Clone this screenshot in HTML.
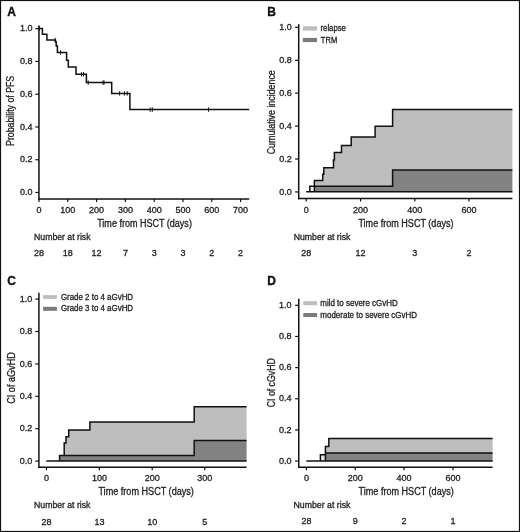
<!DOCTYPE html>
<html><head><meta charset="utf-8"><style>
html,body{margin:0;padding:0;background:#fff;width:520px;height:532px;overflow:hidden;font-family:"Liberation Sans",sans-serif;}
</style></head><body>
<svg width="520" height="532" viewBox="0 0 520 532" style="position:absolute;left:0;top:0;filter:grayscale(1)" font-family="&quot;Liberation Sans&quot;, sans-serif">
<rect x="0" y="0" width="520" height="532" fill="#fff"/>
<line x1="38.95" y1="25.60" x2="38.95" y2="199.65" stroke="#111" stroke-width="1.5"/>
<line x1="38.20" y1="198.90" x2="249.20" y2="198.90" stroke="#111" stroke-width="1.5"/>
<line x1="35.35" y1="28.65" x2="38.95" y2="28.65" stroke="#111" stroke-width="1.2"/>
<text x="32.40" y="31.35" font-size="9" text-anchor="end" fill="#222" stroke="#222" stroke-width="0.3">1.0</text>
<line x1="35.35" y1="61.42" x2="38.95" y2="61.42" stroke="#111" stroke-width="1.2"/>
<text x="32.40" y="64.12" font-size="9" text-anchor="end" fill="#222" stroke="#222" stroke-width="0.3">0.8</text>
<line x1="35.35" y1="94.19" x2="38.95" y2="94.19" stroke="#111" stroke-width="1.2"/>
<text x="32.40" y="96.89" font-size="9" text-anchor="end" fill="#222" stroke="#222" stroke-width="0.3">0.6</text>
<line x1="35.35" y1="126.96" x2="38.95" y2="126.96" stroke="#111" stroke-width="1.2"/>
<text x="32.40" y="129.66" font-size="9" text-anchor="end" fill="#222" stroke="#222" stroke-width="0.3">0.4</text>
<line x1="35.35" y1="159.73" x2="38.95" y2="159.73" stroke="#111" stroke-width="1.2"/>
<text x="32.40" y="162.43" font-size="9" text-anchor="end" fill="#222" stroke="#222" stroke-width="0.3">0.2</text>
<line x1="35.35" y1="192.50" x2="38.95" y2="192.50" stroke="#111" stroke-width="1.2"/>
<text x="32.40" y="195.20" font-size="9" text-anchor="end" fill="#222" stroke="#222" stroke-width="0.3">0.0</text>
<line x1="39.00" y1="198.90" x2="39.00" y2="201.90" stroke="#111" stroke-width="1.2"/>
<text x="39.00" y="212.70" font-size="9" text-anchor="middle" fill="#222" stroke="#222" stroke-width="0.3">0</text>
<line x1="67.80" y1="198.90" x2="67.80" y2="201.90" stroke="#111" stroke-width="1.2"/>
<text x="67.80" y="212.70" font-size="9" text-anchor="middle" fill="#222" stroke="#222" stroke-width="0.3">100</text>
<line x1="96.60" y1="198.90" x2="96.60" y2="201.90" stroke="#111" stroke-width="1.2"/>
<text x="96.60" y="212.70" font-size="9" text-anchor="middle" fill="#222" stroke="#222" stroke-width="0.3">200</text>
<line x1="125.40" y1="198.90" x2="125.40" y2="201.90" stroke="#111" stroke-width="1.2"/>
<text x="125.40" y="212.70" font-size="9" text-anchor="middle" fill="#222" stroke="#222" stroke-width="0.3">300</text>
<line x1="154.20" y1="198.90" x2="154.20" y2="201.90" stroke="#111" stroke-width="1.2"/>
<text x="154.20" y="212.70" font-size="9" text-anchor="middle" fill="#222" stroke="#222" stroke-width="0.3">400</text>
<line x1="183.00" y1="198.90" x2="183.00" y2="201.90" stroke="#111" stroke-width="1.2"/>
<text x="183.00" y="212.70" font-size="9" text-anchor="middle" fill="#222" stroke="#222" stroke-width="0.3">500</text>
<line x1="211.80" y1="198.90" x2="211.80" y2="201.90" stroke="#111" stroke-width="1.2"/>
<text x="211.80" y="212.70" font-size="9" text-anchor="middle" fill="#222" stroke="#222" stroke-width="0.3">600</text>
<line x1="240.60" y1="198.90" x2="240.60" y2="201.90" stroke="#111" stroke-width="1.2"/>
<text x="240.60" y="212.70" font-size="9" text-anchor="middle" fill="#222" stroke="#222" stroke-width="0.3">700</text>
<text x="39.00" y="255.70" font-size="9" text-anchor="middle" fill="#222" stroke="#222" stroke-width="0.3">28</text>
<text x="67.80" y="255.70" font-size="9" text-anchor="middle" fill="#222" stroke="#222" stroke-width="0.3">18</text>
<text x="96.60" y="255.70" font-size="9" text-anchor="middle" fill="#222" stroke="#222" stroke-width="0.3">12</text>
<text x="125.40" y="255.70" font-size="9" text-anchor="middle" fill="#222" stroke="#222" stroke-width="0.3">7</text>
<text x="154.20" y="255.70" font-size="9" text-anchor="middle" fill="#222" stroke="#222" stroke-width="0.3">3</text>
<text x="183.00" y="255.70" font-size="9" text-anchor="middle" fill="#222" stroke="#222" stroke-width="0.3">3</text>
<text x="211.80" y="255.70" font-size="9" text-anchor="middle" fill="#222" stroke="#222" stroke-width="0.3">2</text>
<text x="240.60" y="255.70" font-size="9" text-anchor="middle" fill="#222" stroke="#222" stroke-width="0.3">2</text>
<text x="144.55" y="227.20" font-size="10" text-anchor="middle" fill="#222" stroke="#222" stroke-width="0.3" textLength="94.70" lengthAdjust="spacingAndGlyphs">Time from HSCT (days)</text>
<text x="34.10" y="239.90" font-size="9" text-anchor="start" fill="#222" stroke="#222" stroke-width="0.3" textLength="56.40" lengthAdjust="spacingAndGlyphs">Number at risk</text>
<text x="14.40" y="110.85" font-size="10" text-anchor="middle" fill="#222" stroke="#222" stroke-width="0.3" textLength="70.10" lengthAdjust="spacingAndGlyphs" transform="rotate(-90 14.40 110.85)">Probability of PFS</text>
<text x="7.30" y="15.80" font-size="12" text-anchor="start" fill="#111" stroke="#111" stroke-width="0.35" font-weight="bold">A</text>
<polyline points="39.00,28.60 42.40,28.60 42.40,34.20 46.90,34.20 46.90,40.00 55.40,40.00 55.40,41.80 56.20,41.80 56.20,46.00 57.40,46.00 57.40,52.40 66.60,52.40 66.60,60.20 68.30,60.20 68.30,67.00 76.00,67.00 76.00,74.30 86.40,74.30 86.40,82.60 111.70,82.60 111.70,93.40 129.90,93.40 129.90,109.60 249.20,109.60" fill="none" stroke="#111" stroke-width="1.5" stroke-linejoin="miter" stroke-linecap="butt"/>
<line x1="39.20" y1="26.40" x2="39.20" y2="30.80" stroke="#111" stroke-width="1.0"/>
<line x1="55.20" y1="37.80" x2="55.20" y2="42.20" stroke="#111" stroke-width="1.0"/>
<line x1="60.60" y1="50.20" x2="60.60" y2="54.60" stroke="#111" stroke-width="1.0"/>
<line x1="81.50" y1="72.10" x2="81.50" y2="76.50" stroke="#111" stroke-width="1.0"/>
<line x1="83.50" y1="72.10" x2="83.50" y2="76.50" stroke="#111" stroke-width="1.0"/>
<line x1="88.20" y1="80.40" x2="88.20" y2="84.80" stroke="#111" stroke-width="1.0"/>
<line x1="103.00" y1="80.40" x2="103.00" y2="84.80" stroke="#111" stroke-width="1.0"/>
<line x1="104.00" y1="80.40" x2="104.00" y2="84.80" stroke="#111" stroke-width="1.0"/>
<line x1="119.60" y1="91.20" x2="119.60" y2="95.60" stroke="#111" stroke-width="1.0"/>
<line x1="124.40" y1="91.20" x2="124.40" y2="95.60" stroke="#111" stroke-width="1.0"/>
<line x1="127.20" y1="91.20" x2="127.20" y2="95.60" stroke="#111" stroke-width="1.0"/>
<line x1="150.20" y1="107.40" x2="150.20" y2="111.80" stroke="#111" stroke-width="1.0"/>
<line x1="152.30" y1="107.40" x2="152.30" y2="111.80" stroke="#111" stroke-width="1.0"/>
<line x1="208.60" y1="107.40" x2="208.60" y2="111.80" stroke="#111" stroke-width="1.0"/>
<polygon points="314.40,186.30 314.40,180.40 322.70,180.40 322.70,174.20 323.80,174.20 323.80,167.70 333.50,167.70 333.50,160.00 334.40,160.00 334.40,152.50 341.50,152.50 341.50,145.60 351.20,145.60 351.20,136.90 375.10,136.90 375.10,126.20 392.60,126.20 392.60,109.60 512.40,109.60 512.40,169.90 392.60,169.90 392.60,186.30 314.40,186.30" fill="#bebebe" stroke="none"/>
<polygon points="314.40,186.30 392.60,186.30 392.60,169.90 512.40,169.90 512.40,191.70 314.40,191.70" fill="#828282" stroke="none"/>
<rect x="309.80" y="186.30" width="4.60" height="5.40" fill="#f4f4f4"/>
<line x1="298.70" y1="24.20" x2="298.70" y2="199.30" stroke="#111" stroke-width="1.5"/>
<line x1="297.95" y1="198.55" x2="512.40" y2="198.55" stroke="#111" stroke-width="1.5"/>
<line x1="295.10" y1="27.35" x2="298.70" y2="27.35" stroke="#111" stroke-width="1.2"/>
<text x="291.80" y="30.05" font-size="9" text-anchor="end" fill="#222" stroke="#222" stroke-width="0.3">1.0</text>
<line x1="295.10" y1="60.26" x2="298.70" y2="60.26" stroke="#111" stroke-width="1.2"/>
<text x="291.80" y="62.96" font-size="9" text-anchor="end" fill="#222" stroke="#222" stroke-width="0.3">0.8</text>
<line x1="295.10" y1="93.17" x2="298.70" y2="93.17" stroke="#111" stroke-width="1.2"/>
<text x="291.80" y="95.87" font-size="9" text-anchor="end" fill="#222" stroke="#222" stroke-width="0.3">0.6</text>
<line x1="295.10" y1="126.08" x2="298.70" y2="126.08" stroke="#111" stroke-width="1.2"/>
<text x="291.80" y="128.78" font-size="9" text-anchor="end" fill="#222" stroke="#222" stroke-width="0.3">0.4</text>
<line x1="295.10" y1="158.99" x2="298.70" y2="158.99" stroke="#111" stroke-width="1.2"/>
<text x="291.80" y="161.69" font-size="9" text-anchor="end" fill="#222" stroke="#222" stroke-width="0.3">0.2</text>
<line x1="295.10" y1="191.90" x2="298.70" y2="191.90" stroke="#111" stroke-width="1.2"/>
<text x="291.80" y="194.60" font-size="9" text-anchor="end" fill="#222" stroke="#222" stroke-width="0.3">0.0</text>
<line x1="306.20" y1="198.55" x2="306.20" y2="201.55" stroke="#111" stroke-width="1.2"/>
<text x="306.20" y="212.80" font-size="9" text-anchor="middle" fill="#222" stroke="#222" stroke-width="0.3">0</text>
<line x1="360.60" y1="198.55" x2="360.60" y2="201.55" stroke="#111" stroke-width="1.2"/>
<text x="360.60" y="212.80" font-size="9" text-anchor="middle" fill="#222" stroke="#222" stroke-width="0.3">200</text>
<line x1="414.80" y1="198.55" x2="414.80" y2="201.55" stroke="#111" stroke-width="1.2"/>
<text x="414.80" y="212.80" font-size="9" text-anchor="middle" fill="#222" stroke="#222" stroke-width="0.3">400</text>
<line x1="469.00" y1="198.55" x2="469.00" y2="201.55" stroke="#111" stroke-width="1.2"/>
<text x="469.00" y="212.80" font-size="9" text-anchor="middle" fill="#222" stroke="#222" stroke-width="0.3">600</text>
<text x="306.20" y="256.20" font-size="9" text-anchor="middle" fill="#222" stroke="#222" stroke-width="0.3">28</text>
<text x="360.60" y="256.20" font-size="9" text-anchor="middle" fill="#222" stroke="#222" stroke-width="0.3">12</text>
<text x="414.80" y="256.20" font-size="9" text-anchor="middle" fill="#222" stroke="#222" stroke-width="0.3">3</text>
<text x="469.00" y="256.20" font-size="9" text-anchor="middle" fill="#222" stroke="#222" stroke-width="0.3">2</text>
<text x="405.95" y="226.50" font-size="10" text-anchor="middle" fill="#222" stroke="#222" stroke-width="0.3" textLength="95.10" lengthAdjust="spacingAndGlyphs">Time from HSCT (days)</text>
<text x="293.70" y="239.80" font-size="9" text-anchor="start" fill="#222" stroke="#222" stroke-width="0.3" textLength="56.70" lengthAdjust="spacingAndGlyphs">Number at risk</text>
<text x="274.80" y="112.25" font-size="10" text-anchor="middle" fill="#222" stroke="#222" stroke-width="0.3" textLength="84.10" lengthAdjust="spacingAndGlyphs" transform="rotate(-90 274.80 112.25)">Cumulative incidence</text>
<text x="267.30" y="15.70" font-size="12" text-anchor="start" fill="#111" stroke="#111" stroke-width="0.35" font-weight="bold">B</text>
<polyline points="306.20,191.70 512.40,191.70" fill="none" stroke="#111" stroke-width="1.5" stroke-linejoin="miter" stroke-linecap="butt"/>
<polyline points="309.80,191.70 309.80,186.30 392.60,186.30 392.60,169.90 512.40,169.90" fill="none" stroke="#111" stroke-width="1.5" stroke-linejoin="miter" stroke-linecap="butt"/>
<polyline points="314.40,191.70 314.40,180.40 322.70,180.40 322.70,174.20 323.80,174.20 323.80,167.70 333.50,167.70 333.50,160.00 334.40,160.00 334.40,152.50 341.50,152.50 341.50,145.60 351.20,145.60 351.20,136.90 375.10,136.90 375.10,126.20 392.60,126.20 392.60,109.60 512.40,109.60" fill="none" stroke="#111" stroke-width="1.5" stroke-linejoin="miter" stroke-linecap="butt"/>
<rect x="302.80" y="26.30" width="14.20" height="4.30" fill="#bdbdbd"/>
<rect x="302.80" y="37.90" width="14.20" height="4.20" fill="#7c7c7c"/>
<text x="320.50" y="31.00" font-size="8.8" text-anchor="start" fill="#222" stroke="#222" stroke-width="0.3" textLength="25.40" lengthAdjust="spacingAndGlyphs">relapse</text>
<text x="320.80" y="42.50" font-size="8.8" text-anchor="start" fill="#222" stroke="#222" stroke-width="0.3" textLength="16.40" lengthAdjust="spacingAndGlyphs">TRM</text>
<polygon points="64.20,455.50 64.20,442.90 66.00,442.90 66.00,436.70 68.70,436.70 68.70,429.90 89.90,429.90 89.90,422.00 194.20,422.00 194.20,406.80 246.60,406.80 246.60,440.50 194.20,440.50 194.20,455.50" fill="#bebebe" stroke="none"/>
<polygon points="59.60,455.50 194.20,455.50 194.20,440.50 246.60,440.50 246.60,461.00 59.60,461.00" fill="#828282" stroke="none"/>
<line x1="38.90" y1="292.70" x2="38.90" y2="467.95" stroke="#111" stroke-width="1.5"/>
<line x1="38.15" y1="467.20" x2="246.60" y2="467.20" stroke="#111" stroke-width="1.5"/>
<line x1="35.30" y1="299.10" x2="38.90" y2="299.10" stroke="#111" stroke-width="1.2"/>
<text x="32.30" y="301.80" font-size="9" text-anchor="end" fill="#222" stroke="#222" stroke-width="0.3">1.0</text>
<line x1="35.30" y1="331.50" x2="38.90" y2="331.50" stroke="#111" stroke-width="1.2"/>
<text x="32.30" y="334.20" font-size="9" text-anchor="end" fill="#222" stroke="#222" stroke-width="0.3">0.8</text>
<line x1="35.30" y1="363.90" x2="38.90" y2="363.90" stroke="#111" stroke-width="1.2"/>
<text x="32.30" y="366.60" font-size="9" text-anchor="end" fill="#222" stroke="#222" stroke-width="0.3">0.6</text>
<line x1="35.30" y1="396.30" x2="38.90" y2="396.30" stroke="#111" stroke-width="1.2"/>
<text x="32.30" y="399.00" font-size="9" text-anchor="end" fill="#222" stroke="#222" stroke-width="0.3">0.4</text>
<line x1="35.30" y1="428.70" x2="38.90" y2="428.70" stroke="#111" stroke-width="1.2"/>
<text x="32.30" y="431.40" font-size="9" text-anchor="end" fill="#222" stroke="#222" stroke-width="0.3">0.2</text>
<line x1="35.30" y1="461.10" x2="38.90" y2="461.10" stroke="#111" stroke-width="1.2"/>
<text x="32.30" y="463.80" font-size="9" text-anchor="end" fill="#222" stroke="#222" stroke-width="0.3">0.0</text>
<line x1="46.50" y1="467.20" x2="46.50" y2="470.20" stroke="#111" stroke-width="1.2"/>
<text x="46.50" y="481.20" font-size="9" text-anchor="middle" fill="#222" stroke="#222" stroke-width="0.3">0</text>
<line x1="99.40" y1="467.20" x2="99.40" y2="470.20" stroke="#111" stroke-width="1.2"/>
<text x="99.40" y="481.20" font-size="9" text-anchor="middle" fill="#222" stroke="#222" stroke-width="0.3">100</text>
<line x1="152.20" y1="467.20" x2="152.20" y2="470.20" stroke="#111" stroke-width="1.2"/>
<text x="152.20" y="481.20" font-size="9" text-anchor="middle" fill="#222" stroke="#222" stroke-width="0.3">200</text>
<line x1="204.80" y1="467.20" x2="204.80" y2="470.20" stroke="#111" stroke-width="1.2"/>
<text x="204.80" y="481.20" font-size="9" text-anchor="middle" fill="#222" stroke="#222" stroke-width="0.3">300</text>
<text x="46.50" y="524.50" font-size="9" text-anchor="middle" fill="#222" stroke="#222" stroke-width="0.3">28</text>
<text x="99.40" y="524.50" font-size="9" text-anchor="middle" fill="#222" stroke="#222" stroke-width="0.3">13</text>
<text x="152.20" y="524.50" font-size="9" text-anchor="middle" fill="#222" stroke="#222" stroke-width="0.3">10</text>
<text x="204.80" y="524.50" font-size="9" text-anchor="middle" fill="#222" stroke="#222" stroke-width="0.3">5</text>
<text x="146.15" y="495.30" font-size="10" text-anchor="middle" fill="#222" stroke="#222" stroke-width="0.3" textLength="95.50" lengthAdjust="spacingAndGlyphs">Time from HSCT (days)</text>
<text x="34.10" y="508.00" font-size="9" text-anchor="start" fill="#222" stroke="#222" stroke-width="0.3" textLength="56.30" lengthAdjust="spacingAndGlyphs">Number at risk</text>
<text x="14.60" y="378.00" font-size="10" text-anchor="middle" fill="#222" stroke="#222" stroke-width="0.3" textLength="51.60" lengthAdjust="spacingAndGlyphs" transform="rotate(-90 14.60 378.00)">CI of aGvHD</text>
<text x="7.30" y="284.60" font-size="12" text-anchor="start" fill="#111" stroke="#111" stroke-width="0.35" font-weight="bold">C</text>
<polyline points="46.30,461.00 246.60,461.00" fill="none" stroke="#111" stroke-width="1.5" stroke-linejoin="miter" stroke-linecap="butt"/>
<polyline points="59.60,461.00 59.60,455.50 194.20,455.50 194.20,440.50 246.60,440.50" fill="none" stroke="#111" stroke-width="1.5" stroke-linejoin="miter" stroke-linecap="butt"/>
<polyline points="64.20,455.50 64.20,442.90 66.00,442.90 66.00,436.70 68.70,436.70 68.70,429.90 89.90,429.90 89.90,422.00 194.20,422.00 194.20,406.80 246.60,406.80" fill="none" stroke="#111" stroke-width="1.5" stroke-linejoin="miter" stroke-linecap="butt"/>
<rect x="43.10" y="295.10" width="13.80" height="3.80" fill="#bdbdbd"/>
<rect x="43.10" y="306.80" width="13.80" height="4.00" fill="#7c7c7c"/>
<text x="60.90" y="299.50" font-size="8.8" text-anchor="start" fill="#222" stroke="#222" stroke-width="0.3" textLength="72.20" lengthAdjust="spacingAndGlyphs">Grade 2 to 4 aGvHD</text>
<text x="60.90" y="311.10" font-size="8.8" text-anchor="start" fill="#222" stroke="#222" stroke-width="0.3" textLength="72.20" lengthAdjust="spacingAndGlyphs">Grade 3 to 4 aGvHD</text>
<polygon points="325.40,452.90 325.40,446.60 328.80,446.60 328.80,438.40 492.60,438.40 492.60,452.90" fill="#bebebe" stroke="none"/>
<rect x="325.40" y="452.90" width="167.20" height="8.10" fill="#828282"/>
<rect x="320.40" y="454.70" width="5.00" height="6.30" fill="#e2e2e2"/>
<line x1="298.75" y1="298.80" x2="298.75" y2="467.95" stroke="#111" stroke-width="1.5"/>
<line x1="298.00" y1="467.20" x2="492.60" y2="467.20" stroke="#111" stroke-width="1.5"/>
<line x1="295.15" y1="305.30" x2="298.75" y2="305.30" stroke="#111" stroke-width="1.2"/>
<text x="291.60" y="308.00" font-size="9" text-anchor="end" fill="#222" stroke="#222" stroke-width="0.3">1.0</text>
<line x1="295.15" y1="336.46" x2="298.75" y2="336.46" stroke="#111" stroke-width="1.2"/>
<text x="291.60" y="339.16" font-size="9" text-anchor="end" fill="#222" stroke="#222" stroke-width="0.3">0.8</text>
<line x1="295.15" y1="367.62" x2="298.75" y2="367.62" stroke="#111" stroke-width="1.2"/>
<text x="291.60" y="370.32" font-size="9" text-anchor="end" fill="#222" stroke="#222" stroke-width="0.3">0.6</text>
<line x1="295.15" y1="398.78" x2="298.75" y2="398.78" stroke="#111" stroke-width="1.2"/>
<text x="291.60" y="401.48" font-size="9" text-anchor="end" fill="#222" stroke="#222" stroke-width="0.3">0.4</text>
<line x1="295.15" y1="429.94" x2="298.75" y2="429.94" stroke="#111" stroke-width="1.2"/>
<text x="291.60" y="432.64" font-size="9" text-anchor="end" fill="#222" stroke="#222" stroke-width="0.3">0.2</text>
<line x1="295.15" y1="461.10" x2="298.75" y2="461.10" stroke="#111" stroke-width="1.2"/>
<text x="291.60" y="463.80" font-size="9" text-anchor="end" fill="#222" stroke="#222" stroke-width="0.3">0.0</text>
<line x1="306.40" y1="467.20" x2="306.40" y2="470.20" stroke="#111" stroke-width="1.2"/>
<text x="306.40" y="481.40" font-size="9" text-anchor="middle" fill="#222" stroke="#222" stroke-width="0.3">0</text>
<line x1="355.20" y1="467.20" x2="355.20" y2="470.20" stroke="#111" stroke-width="1.2"/>
<text x="355.20" y="481.40" font-size="9" text-anchor="middle" fill="#222" stroke="#222" stroke-width="0.3">200</text>
<line x1="404.00" y1="467.20" x2="404.00" y2="470.20" stroke="#111" stroke-width="1.2"/>
<text x="404.00" y="481.40" font-size="9" text-anchor="middle" fill="#222" stroke="#222" stroke-width="0.3">400</text>
<line x1="453.00" y1="467.20" x2="453.00" y2="470.20" stroke="#111" stroke-width="1.2"/>
<text x="453.00" y="481.40" font-size="9" text-anchor="middle" fill="#222" stroke="#222" stroke-width="0.3">600</text>
<text x="306.40" y="524.00" font-size="9" text-anchor="middle" fill="#222" stroke="#222" stroke-width="0.3">28</text>
<text x="355.20" y="524.00" font-size="9" text-anchor="middle" fill="#222" stroke="#222" stroke-width="0.3">9</text>
<text x="404.00" y="524.00" font-size="9" text-anchor="middle" fill="#222" stroke="#222" stroke-width="0.3">2</text>
<text x="453.00" y="524.00" font-size="9" text-anchor="middle" fill="#222" stroke="#222" stroke-width="0.3">1</text>
<text x="406.20" y="495.20" font-size="10" text-anchor="middle" fill="#222" stroke="#222" stroke-width="0.3" textLength="95.20" lengthAdjust="spacingAndGlyphs">Time from HSCT (days)</text>
<text x="293.50" y="508.30" font-size="9" text-anchor="start" fill="#222" stroke="#222" stroke-width="0.3" textLength="56.90" lengthAdjust="spacingAndGlyphs">Number at risk</text>
<text x="274.60" y="382.75" font-size="10" text-anchor="middle" fill="#222" stroke="#222" stroke-width="0.3" textLength="49.10" lengthAdjust="spacingAndGlyphs" transform="rotate(-90 274.60 382.75)">CI of cGvHD</text>
<text x="267.30" y="284.50" font-size="12" text-anchor="start" fill="#111" stroke="#111" stroke-width="0.35" font-weight="bold">D</text>
<polyline points="306.40,461.00 492.60,461.00" fill="none" stroke="#111" stroke-width="1.5" stroke-linejoin="miter" stroke-linecap="butt"/>
<polyline points="320.40,461.00 320.40,454.70 325.40,454.70" fill="none" stroke="#111" stroke-width="1.5" stroke-linejoin="miter" stroke-linecap="butt"/>
<polyline points="325.40,461.00 325.40,446.60 328.80,446.60 328.80,438.40 492.60,438.40" fill="none" stroke="#111" stroke-width="1.5" stroke-linejoin="miter" stroke-linecap="butt"/>
<polyline points="325.40,452.90 492.60,452.90" fill="none" stroke="#111" stroke-width="1.5" stroke-linejoin="miter" stroke-linecap="butt"/>
<rect x="303.30" y="301.20" width="13.80" height="4.00" fill="#bdbdbd"/>
<rect x="303.30" y="313.00" width="13.80" height="4.00" fill="#7c7c7c"/>
<text x="320.30" y="306.00" font-size="8.8" text-anchor="start" fill="#222" stroke="#222" stroke-width="0.3" textLength="77.50" lengthAdjust="spacingAndGlyphs">mild to severe cGvHD</text>
<text x="320.30" y="317.70" font-size="8.8" text-anchor="start" fill="#222" stroke="#222" stroke-width="0.3" textLength="96.80" lengthAdjust="spacingAndGlyphs">moderate to severe cGvHD</text>
<rect x="0.5" y="0.5" width="519" height="531" fill="none" stroke="#111" stroke-width="1.2"/>
</svg>
</body></html>
